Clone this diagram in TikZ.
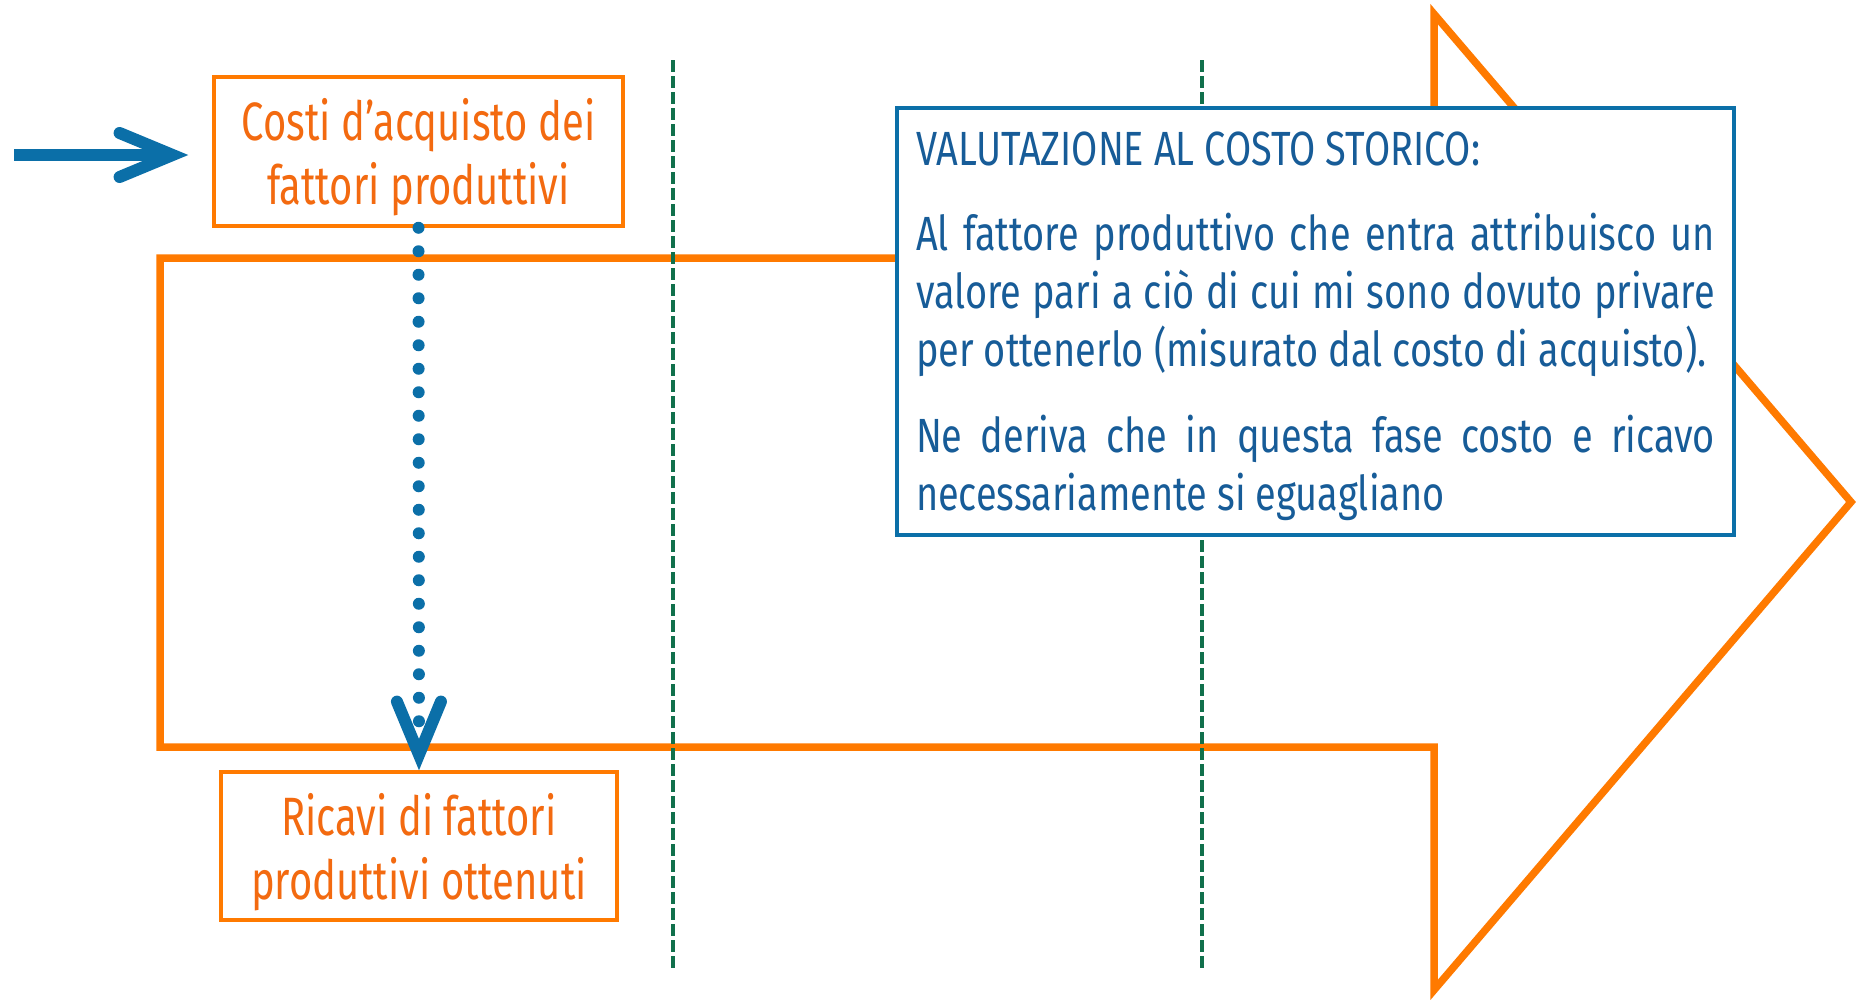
\documentclass[tikz,border=0pt]{standalone}
\usepackage{fontspec}
\setmainfont{Fira Sans}[FakeStretch=0.79]
\newfontfamily\narrowfont{Fira Sans}[FakeStretch=0.74]
\usetikzlibrary{arrows.meta}
\definecolor{arrorange}{HTML}{FF7A00}
\definecolor{txtorange}{HTML}{F36A10}
\definecolor{linkblue}{HTML}{0B6FA8}
\definecolor{txtblue}{HTML}{175C98}
\definecolor{phasegreen}{HTML}{11704C}

\tikzstyle{bigarrow}=[draw=arrorange,line width=7.5pt,miter limit=20]
\tikzstyle{phase}=[draw=phasegreen,line width=3.5pt,dash pattern=on 12pt off 4pt]
\tikzstyle{factor}=[draw=arrorange,line width=3.5pt,fill=white,text=txtorange,align=center,inner sep=0pt,font=\narrowfont\fontsize{54}{64}\selectfont]
\tikzstyle{infobox}=[draw=linkblue,line width=4pt,fill=white,text=txtblue,text width=799pt,inner xsep=19pt,align=justify,font=\fontsize{48}{58}\selectfont]
\tikzstyle{flow}=[draw=linkblue,line width=12pt,-{Straight Barb[length=53pt,width=44pt,line cap=round,line join=miter]}]
\tikzstyle{link}=[draw=linkblue,line width=12pt,line cap=round,dash pattern=on 0pt off 23.5pt,-{Straight Barb[length=53pt,width=44pt,line width=12pt,line cap=round,line join=miter]}]
\newcommand{\pxunit}{1pt}
\newcommand{\lift}{\rule{0pt}{54pt}}

\begin{document}
\begin{tikzpicture}[x=\pxunit,y=-\pxunit]
    % First we fix the page
    \path[fill=white] (0,0) rectangle (1858,999);
    % The big process arrow and the phase separators
    \path[bigarrow] (160,258) -- (1434,258) -- (1434,14) -- (1851,502) -- (1434,990) -- (1434,747) -- (160,747) -- cycle;
    \foreach \x in {673,1202}
        \path[phase] (\x,60) -- (\x,968);
    % Then the boxes
    \node[factor,minimum width=409pt,minimum height=149pt] (costi) at (418.5,151.5) {\lift Costi d’acquisto dei\\fattori produttivi};
    \node[factor,minimum width=396pt,minimum height=148pt] (ricavi) at (419,846) {\lift Ricavi di fattori\\produttivi ottenuti};
    \node[infobox,anchor=north west,minimum height=427pt] (valut) at (895,106) {\hyphenpenalty=10000\relax
        \rule{0pt}{43pt}VALUTAZIONE AL COSTO STORICO:\par\vspace{27pt}
        Al fattore produttivo che entra attribuisco un\linebreak valore pari a ciò di cui mi sono dovuto privare\linebreak per ottenerlo (misurato dal costo di acquisto).\par\vspace{28pt}
        Ne deriva che in questa fase costo e ricavo\linebreak necessariamente si eguagliano};
    % Connect boxes with arrows
    \coordinate (entry) at (14,155);
    \path[flow,shorten >=24pt] (entry) -- (entry -| costi.west);
    \path[link] (costi.south) -- (ricavi.north);
\end{tikzpicture}
\end{document}
